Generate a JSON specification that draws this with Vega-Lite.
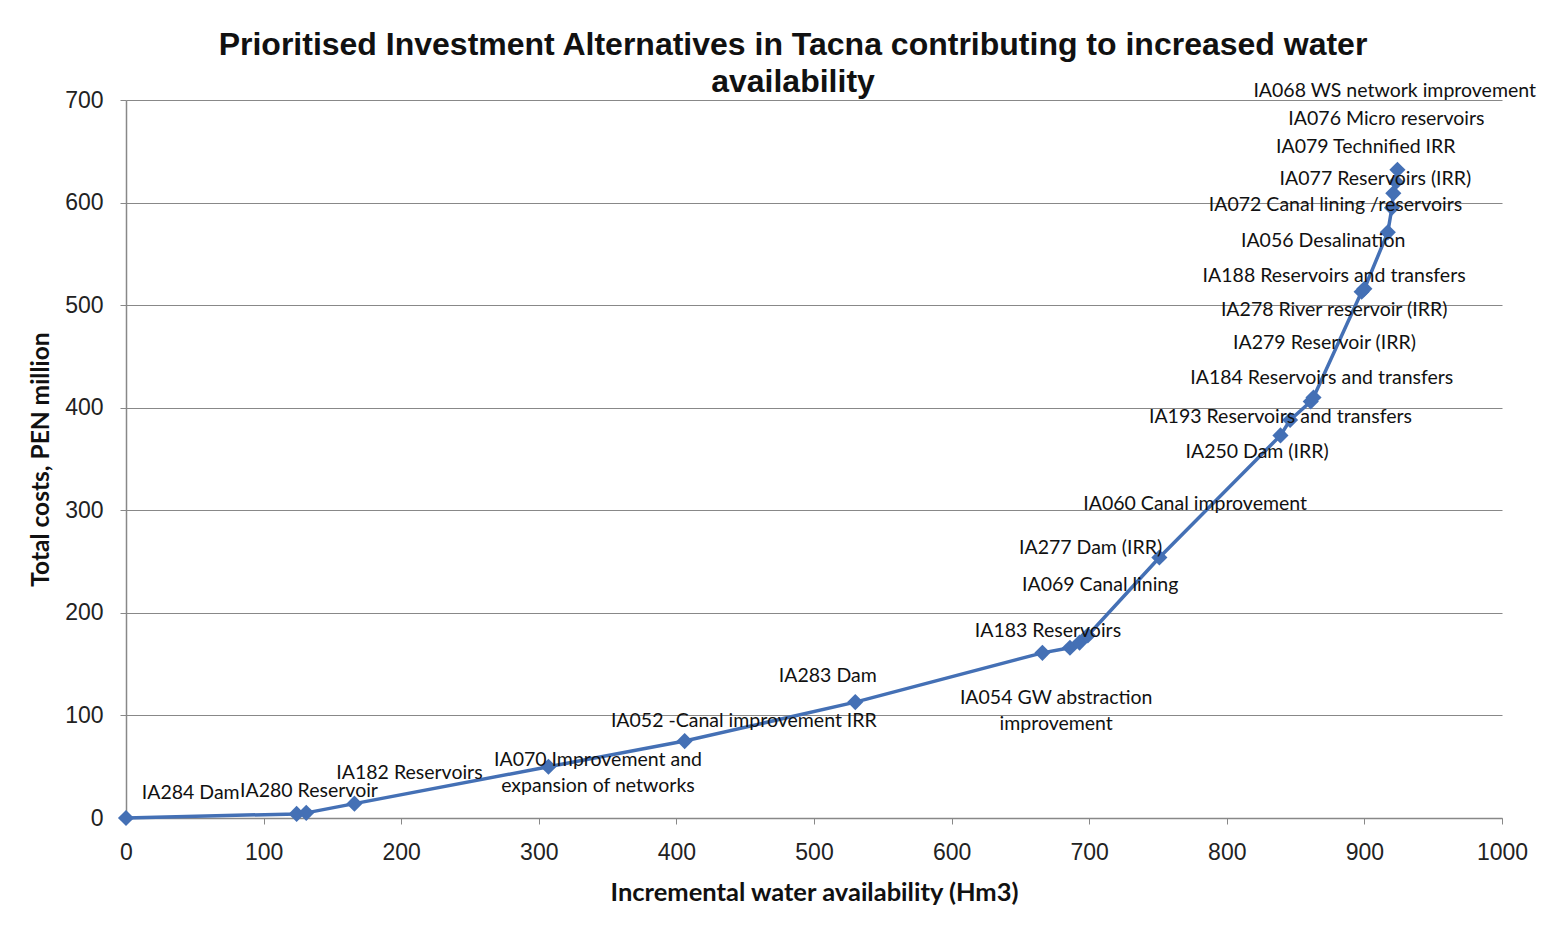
{
  "$schema": "https://vega.github.io/schema/vega-lite/v6.json",
  "autosize": "none",
  "width": 1376,
  "height": 718,
  "padding": {"left": 126, "top": 100, "right": 53, "bottom": 126},
  "background": "white",
  "title": {
    "text": ["Prioritised Investment Alternatives in Tacna contributing to increased water", "availability"],
    "font": "Liberation Sans",
    "fontSize": 32,
    "fontWeight": "bold",
    "color": "#111",
    "lineHeight": 37,
    "anchor": "middle",
    "dx": -21,
    "offset": -18
  },
  "datasets": {
    "points": [
      {"water": 0, "cost": 0},
      {"water": 124, "cost": 4},
      {"water": 131, "cost": 5},
      {"water": 166, "cost": 14},
      {"water": 307, "cost": 50},
      {"water": 406, "cost": 75},
      {"water": 530, "cost": 113},
      {"water": 666, "cost": 161},
      {"water": 686, "cost": 166},
      {"water": 693, "cost": 171},
      {"water": 699, "cost": 178},
      {"water": 751, "cost": 254},
      {"water": 839, "cost": 373},
      {"water": 846, "cost": 388},
      {"water": 861, "cost": 406},
      {"water": 863, "cost": 410},
      {"water": 898, "cost": 513},
      {"water": 900, "cost": 516},
      {"water": 917, "cost": 571},
      {"water": 920, "cost": 595},
      {"water": 921, "cost": 609},
      {"water": 923, "cost": 620},
      {"water": 924, "cost": 632}
    ],
    "labels": [
      {"lx": 47, "ly": 24, "label": "IA284 Dam"},
      {"lx": 133, "ly": 26, "label": "IA280 Reservoir"},
      {"lx": 206, "ly": 44, "label": "IA182 Reservoirs"},
      {"lx": 343, "ly": 57, "label": "IA070 Improvement and\nexpansion of networks"},
      {"lx": 449, "ly": 95, "label": "IA052 -Canal improvement IRR"},
      {"lx": 510, "ly": 138, "label": "IA283 Dam"},
      {"lx": 676, "ly": 117, "label": "IA054 GW abstraction\nimprovement"},
      {"lx": 670, "ly": 182, "label": "IA183 Reservoirs"},
      {"lx": 708, "ly": 227, "label": "IA069 Canal lining"},
      {"lx": 701, "ly": 263, "label": "IA277 Dam (IRR)"},
      {"lx": 777, "ly": 306, "label": "IA060 Canal improvement"},
      {"lx": 822, "ly": 357, "label": "IA250 Dam (IRR)"},
      {"lx": 839, "ly": 391, "label": "IA193 Reservoirs and transfers"},
      {"lx": 869, "ly": 429, "label": "IA184 Reservoirs and transfers"},
      {"lx": 871, "ly": 463, "label": "IA279 Reservoir (IRR)"},
      {"lx": 878, "ly": 495, "label": "IA278 River reservoir (IRR)"},
      {"lx": 878, "ly": 528, "label": "IA188 Reservoirs and  transfers"},
      {"lx": 870, "ly": 563, "label": "IA056 Desalination"},
      {"lx": 879, "ly": 598, "label": "IA072 Canal lining /reservoirs"},
      {"lx": 908, "ly": 623, "label": "IA077 Reservoirs (IRR)"},
      {"lx": 901, "ly": 654, "label": "IA079 Technified IRR"},
      {"lx": 916, "ly": 681, "label": "IA076 Micro reservoirs"},
      {"lx": 922, "ly": 709, "label": "IA068 WS network improvement"}
    ]
  },
  "layer": [
    {
      "data": {"name": "points"},
      "mark": {"type": "line", "color": "#4470b5", "strokeWidth": 3.5},
      "encoding": {
        "x": {
          "field": "water", "type": "quantitative",
          "scale": {"domain": [0, 1000], "nice": false, "zero": true},
          "axis": {
            "title": "Incremental water  availability (Hm3)",
            "titleFont": "Lato", "titleFontSize": 25.5, "titleFontWeight": "bold", "titleColor": "#111",
            "titlePadding": 16,
            "values": [0, 100, 200, 300, 400, 500, 600, 700, 800, 900, 1000],
            "format": "d",
            "labelFont": "Liberation Sans", "labelFontSize": 23, "labelColor": "#222",
            "labelPadding": 17, "labelFlush": false,
            "grid": false, "domainColor": "#888", "domainWidth": 1.5,
            "tickColor": "#888", "tickSize": 6
          }
        },
        "y": {
          "field": "cost", "type": "quantitative",
          "scale": {"domain": [0, 700], "nice": false},
          "axis": {
            "title": "Total costs, PEN million",
            "titleFont": "Lato", "titleFontSize": 24.5, "titleFontWeight": "bold", "titleColor": "#111",
            "titlePadding": 11,
            "values": [0, 100, 200, 300, 400, 500, 600, 700],
            "format": "d",
            "labelFont": "Liberation Sans", "labelFontSize": 23, "labelColor": "#222",
            "labelPadding": 17,
            "grid": true, "gridColor": "#888", "gridWidth": 1.2, "gridOpacity": 1,
            "domainColor": "#888", "domainWidth": 1.5,
            "tickColor": "#888", "tickSize": 6
          }
        }
      }
    },
    {
      "data": {"name": "points"},
      "mark": {"type": "point", "shape": "diamond", "filled": true, "color": "#4470b5", "size": 260, "opacity": 1},
      "encoding": {
        "x": {"field": "water", "type": "quantitative"},
        "y": {"field": "cost", "type": "quantitative"}
      }
    },
    {
      "data": {"name": "labels"},
      "mark": {"type": "text", "font": "Lato", "fontSize": 19.5, "color": "#111", "align": "center", "baseline": "middle", "lineBreak": "\n", "lineHeight": 26, "clip": false},
      "encoding": {
        "x": {"field": "lx", "type": "quantitative"},
        "y": {"field": "ly", "type": "quantitative"},
        "text": {"field": "label"}
      }
    }
  ],
  "config": {
    "view": {"stroke": null}
  }
}
